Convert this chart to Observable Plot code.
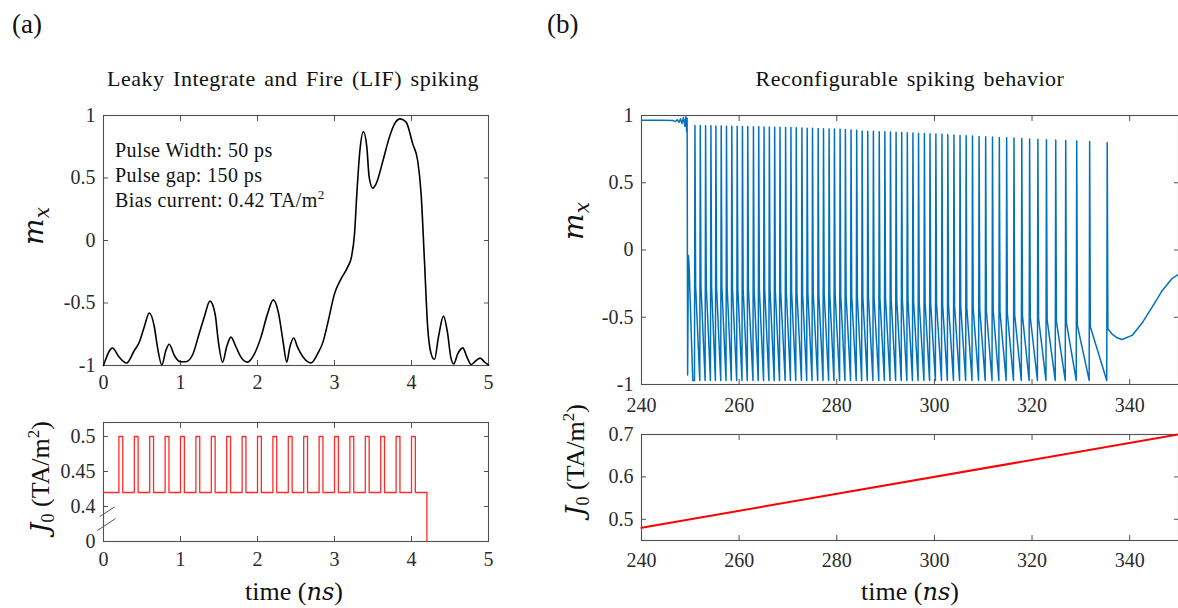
<!DOCTYPE html>
<html><head><meta charset="utf-8">
<script src="https://cdn.jsdelivr.net/npm/d3@7"></script>
<script src="https://cdn.jsdelivr.net/npm/@observablehq/plot@0.6"></script>
<style>
html,body{margin:0;padding:0;background:#fff;}
#root{position:relative;width:1178px;height:608px;overflow:hidden;font-family:"Liberation Serif","Times New Roman",serif;}
.panel{position:absolute;}
.panel svg text{font-family:"Liberation Serif","Times New Roman",serif !important;}
#overlay{position:absolute;left:0;top:0;pointer-events:none;}
</style></head><body><div id="root"></div>
<script>
// ---------------- data: panel (a) ----------------
const lifTime = [0, 0.117, 0.2, 0.3, 0.4, 0.46, 0.53, 0.594, 0.66, 0.7, 0.758, 0.81, 0.853, 0.92, 1.0, 1.07, 1.16, 1.24, 1.31, 1.382, 1.45, 1.49, 1.547, 1.6, 1.655, 1.72, 1.785, 1.87, 1.96, 2.045, 2.13, 2.205, 2.275, 2.33, 2.38, 2.42, 2.47, 2.52, 2.587, 2.695, 2.78, 2.85, 2.91, 3.0, 3.085, 3.17, 3.22, 3.26, 3.29, 3.33, 3.375, 3.42, 3.45, 3.497, 3.54, 3.63, 3.713, 3.78, 3.852, 3.93, 4.016, 4.08, 4.125, 4.168, 4.21, 4.255, 4.298, 4.35, 4.415, 4.47, 4.51, 4.549, 4.6, 4.666, 4.72, 4.775, 4.84, 4.892, 4.95, 5.0];
const lifMx = [-1, -0.86, -0.93, -0.98, -0.88, -0.82, -0.69, -0.58, -0.69, -0.85, -0.995, -0.88, -0.83, -0.92, -0.97, -0.97, -0.91, -0.75, -0.61, -0.485, -0.59, -0.8, -0.973, -0.85, -0.773, -0.85, -0.933, -0.973, -0.907, -0.773, -0.587, -0.475, -0.587, -0.8, -0.973, -0.853, -0.78, -0.853, -0.928, -0.979, -0.907, -0.813, -0.667, -0.427, -0.307, -0.213, -0.133, 0.053, 0.373, 0.72, 0.87, 0.747, 0.507, 0.419, 0.453, 0.64, 0.827, 0.933, 0.973, 0.947, 0.773, 0.64, 0.373, -0.16, -0.693, -0.907, -0.952, -0.773, -0.605, -0.747, -0.933, -0.987, -0.907, -0.859, -0.933, -0.992, -0.96, -0.941, -0.973, -0.995];

const pulseStarts = [0.2, 0.4, 0.6, 0.8, 1.0, 1.2, 1.4, 1.6, 1.8, 2.0, 2.2, 2.4, 2.6, 2.8, 3.0, 3.2, 3.4, 3.6, 3.8, 4.0];
const pulseWidth = 0.05;     // ns
const biasCurrent = 0.42;    // TA/m^2
const pulseCurrent = 0.5;    // TA/m^2
const currentOffTime = 4.2;  // ns, current switched to 0
const lifXTicks = [0, 1, 2, 3, 4, 5];
const lifYTicks = [-1, -0.5, 0, 0.5, 1];
const pulseYTicks = [0, 0.4, 0.45, 0.5];

// ---------------- data: panel (b) ----------------
const preTime = [240, 244, 246.5, 246.9, 247.3, 247.7, 248.0, 248.3, 248.6, 248.9, 249.1, 249.25, 249.35, 249.45, 249.6, 249.75, 250.5];
const preMx   = [0.965, 0.965, 0.962, 0.955, 0.968, 0.95, 0.975, 0.94, 0.985, 0.92, 0.99, 0.88, 0.98, -0.93, -0.04, -0.12, -0.97];
const spikeTimes = [250.95, 252.04, 253.13, 254.22, 255.24, 256.33, 257.41, 258.5, 259.6, 260.68, 261.77, 262.93, 264.01, 265.1, 266.19, 267.28, 268.37, 269.52, 270.61, 271.7, 272.86, 273.94, 275.03, 276.19, 277.28, 278.43, 279.52, 280.68, 281.77, 282.92, 284.08,
  285.2, 286.35, 287.5, 288.7, 289.85, 291.0, 292.15, 293.3, 294.45, 295.6, 296.75, 297.95, 299.1, 300.3, 301.55, 302.75, 304.0, 305.25, 306.5, 307.8, 309.15, 310.5, 311.9, 313.3, 314.8, 316.3, 317.9, 319.5, 321.2, 322.95, 324.85, 326.9, 329.15, 331.8, 335.4];
const spikePeaks = [0.925, 0.925, 0.924, 0.923, 0.922, 0.922, 0.921, 0.92, 0.92, 0.919, 0.918, 0.917, 0.916, 0.915, 0.914, 0.913, 0.912, 0.911, 0.91, 0.909, 0.907, 0.906, 0.905, 0.904, 0.902, 0.9, 0.899, 0.897, 0.895, 0.893, 0.891,
  0.884, 0.883, 0.882, 0.88, 0.879, 0.877, 0.875, 0.873, 0.872, 0.87, 0.868, 0.866, 0.864, 0.862, 0.86, 0.857, 0.855, 0.852, 0.85, 0.847, 0.844, 0.842, 0.84, 0.837, 0.834, 0.832, 0.829, 0.826, 0.823, 0.82, 0.817, 0.814, 0.81, 0.806, 0.80];
// m_x where the fast fall after each spike ends (start of the slow sawtooth decay)
const spikeResets = [-0.27, -0.27, -0.27, -0.28, -0.28, -0.28, -0.28, -0.29, -0.29, -0.29, -0.29, -0.3, -0.3, -0.3, -0.3, -0.31, -0.31, -0.31, -0.31, -0.32, -0.32, -0.32, -0.32, -0.33, -0.33, -0.33, -0.33, -0.34, -0.34, -0.34, -0.35,
  -0.35, -0.35, -0.36, -0.36, -0.36, -0.37, -0.37, -0.37, -0.38, -0.38, -0.39, -0.39, -0.4, -0.4, -0.41, -0.41, -0.42, -0.42, -0.43, -0.43, -0.44, -0.45, -0.45, -0.46, -0.47, -0.48, -0.49, -0.5, -0.51, -0.52, -0.53, -0.54, -0.56, -0.57, -0.587];
const spikeTrough = -0.97;   // m_x just before each spike
const postTime = [336.4, 337.3, 338.4, 340.5, 342.5, 344.6, 346.6, 348.6, 350];
const postMx   = [-0.625, -0.65, -0.665, -0.635, -0.545, -0.425, -0.305, -0.215, -0.18];
const rampTime = [240, 350];
const rampJ = [0.48, 0.70];
const reXTicks = [240, 260, 280, 300, 320, 340];
const reYTicks = [-1, -0.5, 0, 0.5, 1];
const rampYTicks = [0.5, 0.6, 0.7];

// ---------------- styling ----------------
const AX = "#505050", TXT = "#2b2b2b", FONT = "'Liberation Serif','Times New Roman',serif";
const TICKFS = 20;
const fmt = d => String(d);

function boxAxes(xTicks, yTicks, {xFmt = fmt, yFmt = fmt, xPad = 14, yPad = 13} = {}) {
  return [
    Plot.frame({stroke: AX, strokeWidth: 1.1}),
    Plot.axisX({anchor: "bottom", ticks: xTicks, tickSize: -5, tickPadding: xPad, tickFormat: xFmt, label: null, stroke: AX, fill: TXT, fontSize: TICKFS}),
    Plot.axisX({anchor: "top", ticks: xTicks, tickSize: -5, label: null, stroke: AX, fill: "none"}),
    Plot.axisY({anchor: "left", ticks: yTicks, tickSize: -5, tickPadding: yPad, tickFormat: yFmt, label: null, stroke: AX, fill: TXT, fontSize: TICKFS}),
    Plot.axisY({anchor: "right", ticks: yTicks, tickSize: -5, label: null, stroke: AX, fill: "none"})
  ];
}
const svgStyle = "background:none;overflow:visible;max-width:none;font-family:'Liberation Serif','Times New Roman',serif;";
const root = document.getElementById("root");
function place(plot, left, top) {
  const d = document.createElement("div");
  d.className = "panel"; d.style.left = left + "px"; d.style.top = top + "px";
  d.appendChild(plot); root.appendChild(d);
  d3.select(plot).attr("font-family", FONT).selectAll("g, text").attr("font-family", null).style("font-family", FONT);
}

// ---- (a) top: LIF m_x ----
const lifData = lifTime.map((t, i) => ({t, m: lifMx[i]}));
place(Plot.plot({
  width: 500, height: 340, marginLeft: 103, marginRight: 12, marginTop: 55, marginBottom: 35,
  style: svgStyle,
  x: {domain: [0, 5]}, y: {domain: [-1, 1]},
  marks: [
    ...boxAxes(lifXTicks, lifYTicks, {xPad: 14}),
    Plot.line(lifData, {x: "t", y: "m", stroke: "#000", strokeWidth: 1.6, curve: "monotone-x"})
  ]
}), 0, 60);

// ---- (a) bottom: pulse train current (broken axis: 0 shown just below 0.4) ----
const displayJ = j => (j === 0 ? 0.35 : j);
const pulseData = [{t: 0, j: biasCurrent}];
for (const s of pulseStarts) {
  pulseData.push({t: s, j: pulseCurrent});
  pulseData.push({t: s + pulseWidth, j: biasCurrent});
}
pulseData.push({t: currentOffTime, j: 0});
const breakMarks = [
  {x1: -0.05, y1: 0.3855, x2: 0.145, y2: 0.3995},
  {x1: -0.08, y1: 0.3657, x2: 0.156, y2: 0.3828}
];
place(Plot.plot({
  width: 500, height: 170, marginLeft: 103, marginRight: 12, marginTop: 22, marginBottom: 29,
  style: svgStyle,
  x: {domain: [0, 5]}, y: {domain: [0.35, 0.52]},
  marks: [
    ...boxAxes(lifXTicks, pulseYTicks.map(displayJ), {xPad: 15, yFmt: d => (d === 0.35 ? "0" : String(d))}),
    Plot.line(pulseData, {x: "t", y: d => displayJ(d.j), stroke: "#ff2a2a", strokeWidth: 1.3, curve: "step-after"}),
    Plot.link(breakMarks, {x1: "x1", y1: "y1", x2: "x2", y2: "y2", stroke: "#555", strokeWidth: 1})
  ]
}), 0, 400);

// ---- (b) top: reconfigurable spiking ----
const spikeData = preTime.map((t, i) => ({t, m: preMx[i]}));
spikeTimes.forEach((t, i) => {
  spikeData.push({t: t - 0.1, m: spikeTrough});
  spikeData.push({t: t, m: spikePeaks[i]});
  spikeData.push({t: t + 0.14, m: spikeResets[i]});
});
postTime.forEach((t, i) => spikeData.push({t, m: postMx[i]}));
place(Plot.plot({
  width: 618, height: 320, marginLeft: 81, marginRight: 0, marginTop: 25, marginBottom: 26,
  style: svgStyle,
  x: {domain: [240, 350]}, y: {domain: [-1, 1]},
  marks: [
    ...boxAxes(reXTicks, reYTicks, {xPad: 18}),
    Plot.line(spikeData, {x: "t", y: "m", stroke: "#0072BD", strokeWidth: 1.5})
  ]
}), 560, 90);

// ---- (b) bottom: ramp current ----
const rampData = rampTime.map((t, i) => ({t, j: rampJ[i]}));
place(Plot.plot({
  width: 618, height: 165, marginLeft: 81, marginRight: 0, marginTop: 24, marginBottom: 35,
  style: svgStyle,
  x: {domain: [240, 350]}, y: {domain: [0.45, 0.7]},
  marks: [
    ...boxAxes(reXTicks, rampYTicks, {xPad: 17}),
    Plot.line(rampData, {x: "t", y: "j", stroke: "#ff0000", strokeWidth: 2})
  ]
}), 560, 410);

// ---------------- text overlay ----------------
const ov = d3.select(root).append("svg").attr("id", "overlay").attr("width", 1178).attr("height", 608)
  .style("font-family", FONT).style("fill", "#111");
function txt(x, y, size, anchor) {
  return ov.append("text").attr("x", x).attr("y", y).attr("font-size", size).attr("text-anchor", anchor || "start");
}
txt(12, 33, 27).text("(a)");
txt(547, 33, 27).text("(b)");
txt(293, 86, 22, "middle").attr("letter-spacing", 0.5).attr("word-spacing", 2.5).text("Leaky Integrate and Fire (LIF) spiking");
txt(910, 86, 22, "middle").attr("letter-spacing", 0.5).attr("word-spacing", 2.5).text("Reconfigurable spiking behavior");

const ann = ["Pulse Width: 50 ps", "Pulse gap: 150 ps"];
ann.forEach((s, i) => txt(115, 157 + 25 * i, 20).attr("letter-spacing", 0.4).text(s));
const bias = txt(115, 207, 20).attr("letter-spacing", 0.4);
bias.append("tspan").text("Bias current: 0.42 TA/m");
bias.append("tspan").attr("font-size", 13).attr("dy", -8).text("2");

function mxLabel(x, y) {
  const t = ov.append("text").attr("transform", `translate(${x},${y}) rotate(-90)`).attr("text-anchor", "middle");
  t.append("tspan").attr("font-family", "'DejaVu Serif',serif").attr("font-style", "italic").attr("font-size", 28).text("m");
  t.append("tspan").attr("font-family", "'DejaVu Serif',serif").attr("font-style", "italic").attr("font-size", 20).attr("dy", 6).text("x");
}
mxLabel(43, 226);
mxLabel(583, 221);

function jLabel(x, y) {
  const t = ov.append("text").attr("transform", `translate(${x},${y}) rotate(-90)`).attr("text-anchor", "middle").attr("font-size", 26);
  t.append("tspan").attr("font-family", "'DejaVu Serif',serif").attr("font-style", "italic").text("J");
  t.append("tspan").attr("font-size", 18).attr("dy", 5).text("0");
  t.append("tspan").attr("dy", -5).text(" (TA/m");
  t.append("tspan").attr("font-size", 17).attr("dy", -10).text("2");
  t.append("tspan").attr("dy", 10).text(")");
}
jLabel(49, 477);
jLabel(584, 460);

function timeLabel(x, y) {
  const t = ov.append("text").attr("x", x).attr("y", y).attr("text-anchor", "middle").attr("font-size", 26);
  t.append("tspan").text("time (");
  t.append("tspan").attr("font-family", "'DejaVu Serif',serif").attr("font-style", "italic").attr("font-size", 24).text("ns");
  t.append("tspan").text(")");
}
timeLabel(294, 600);
timeLabel(910, 600);
</script></body></html>
